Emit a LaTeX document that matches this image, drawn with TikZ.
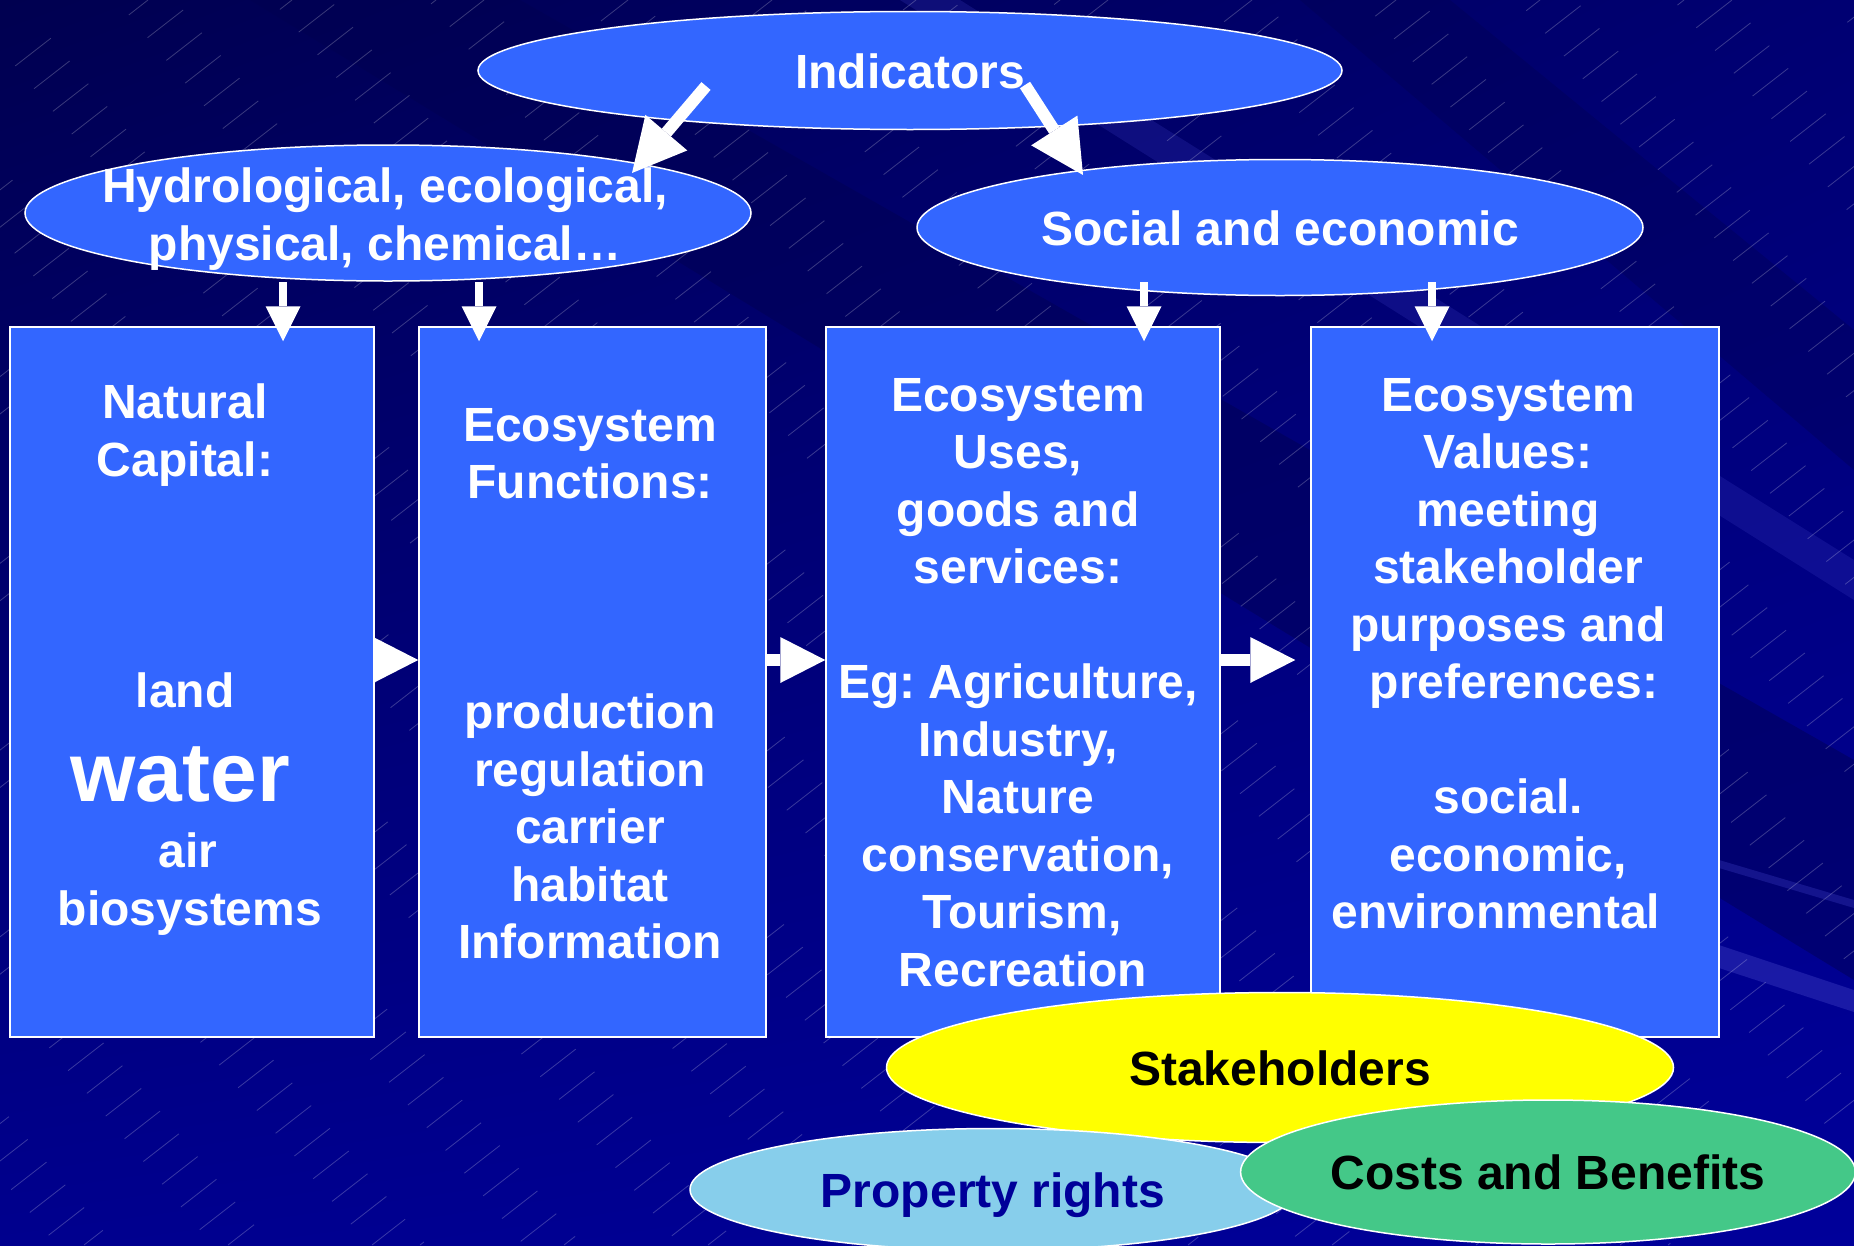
\documentclass[tikz,border=0pt]{standalone}
\usepackage{fontspec}
\setmainfont{Liberation Sans}
\usetikzlibrary{shapes.geometric,arrows.meta,calc,shadings}
\frenchspacing
\definecolor{boxblue}{HTML}{3366FF}
\definecolor{bgA}{HTML}{000050}
\definecolor{bgB}{HTML}{000072}
\definecolor{bgC}{HTML}{00008E}
\definecolor{bgD}{HTML}{00009A}
\definecolor{streak}{HTML}{3A3AC0}
\definecolor{stkyellow}{HTML}{FFFF00}
\definecolor{propblue}{HTML}{87CEEB}
\definecolor{costgreen}{HTML}{44C888}
\definecolor{proptext}{HTML}{000099}
\tikzset{
  boxst/.style={draw=white,line width=1.5pt,fill=boxblue,inner sep=0pt},
  ellst/.style={ellipse,draw=white,line width=1.5pt,fill=boxblue,inner sep=0pt,
    text=white,font=\fontsize{48}{57.5}\selectfont\bfseries,
    text height=35pt,text depth=0pt},
  txt/.style={text=white,font=\fontsize{48}{57.5}\selectfont\bfseries\frenchspacing,
    align=center,inner sep=0pt},
  varrow/.style={draw=white,line width=8pt,
    -{Triangle[length=35pt,width=35pt,line width=0pt]}},
  harrow/.style={draw=white,line width=12pt,
    -{Triangle[length=45pt,width=46pt,line width=0pt]}},
  darrow/.style={draw=white,line width=12pt,
    -{Triangle[length=53pt,width=55pt,line width=0pt]}},
  hatch/.style={draw=white,opacity=0.22,line width=0.8pt},
}
\begin{document}
\begin{tikzpicture}[x=1pt,y=-1pt]
\useasboundingbox (0,0) rectangle (1854,1245);
% background
\shade[upper left=bgA,upper right=bgB,lower left=bgC,lower right=bgD]
  (0,0) rectangle (1854,1245);
\fill[bgA,opacity=0.45] (250,0) -- (520,0) -- (1854,760) -- (1854,980) -- cycle;
\fill[bgA,opacity=0.35] (1300,0) -- (1450,0) -- (1854,330) -- (1854,470) -- cycle;
\fill[streak,opacity=0.25] (900,0) -- (960,0) -- (1854,560) -- (1854,600) -- cycle;
\fill[streak,opacity=0.45] (1719,945) -- (1854,990) -- (1854,1012) -- (1719,968) -- cycle;
\fill[streak,opacity=0.35] (1719,860) -- (1854,900) -- (1854,908) -- (1719,868) -- cycle;
\foreach \i in {0,...,66}{
  \draw[hatch,dash pattern=on 45pt off 75pt,dash phase={mod(\i*37,120)*1pt}]
    ({\i*48-1500},1245) -- ++(1600,-1245);
}
% boxes
\node[boxst,minimum width=364pt,minimum height=710pt] (b1) at (192,682) {};
\node[boxst,minimum width=347pt,minimum height=710pt] (b2) at (592.5,682) {};
\node[boxst,minimum width=394pt,minimum height=710pt] (b3) at (1023,682) {};
\node[boxst,minimum width=408pt,minimum height=710pt] (b4) at (1515,682) {};
% upper ellipses
\node[ellst,minimum width=864pt,minimum height=118pt] (ind) at (910,70.5) {Indicators};
\node[ellst,minimum width=726pt,minimum height=136pt] (hyd) at (388,213) {};
\node[ellst,minimum width=726pt,minimum height=136pt] (soc) at (1280,227.5) {Social and economic};
\node[txt,anchor=north] (hydt) at (385,168) {Hydrological, ecological,\\physical, chemical…};
% arrows from indicators
\coordinate (d1) at (706,86);
\coordinate (d1e) at (632,173);
\coordinate (d2) at (1025,85);
\coordinate (d2e) at (1083,175);
\draw[darrow] (d1) -- (d1e);
\draw[darrow] (d2) -- (d2e);
% vertical arrows
\coordinate (v1) at (283,282);
\coordinate (v2) at (479,282);
\coordinate (v3) at (1144,282);
\coordinate (v4) at (1432,282);
\draw[varrow] (v1) -- ($(v1|-b1.north)+(0,15)$);
\draw[varrow] (v2) -- ($(v2|-b2.north)+(0,15)$);
\draw[varrow] (v3) -- ($(v3|-b3.north)+(0,15)$);
\draw[varrow] (v4) -- ($(v4|-b4.north)+(0,15)$);
% horizontal arrows
\coordinate (hy) at (0,660);
\draw[harrow] ($(b1.east|-hy)+(-1,0)$) -- (b2.west|-hy);
\draw[harrow] (b2.east|-hy) -- (b3.west|-hy);
\draw[harrow] (b3.east|-hy) -- ($(b4.west|-hy)+(-15,0)$);
% box texts
\node[txt,anchor=north] (t1a) at (185,384) {Natural\\Capital:};
\node[txt,anchor=base] (t1b) at (185,707) {land};
\node[txt,anchor=base,font=\fontsize{84}{90}\selectfont\bfseries] (t1c) at (180,801) {water};
\node[txt,anchor=north] (t1d) at (190,833) {air\hspace*{4pt}\\biosystems};
\node[txt,anchor=north] (t2) at (590,408)
  {Ecosystem\\Functions:\\[172.5pt]production\\regulation\\carrier\\habitat\\Information};
\node[txt,anchor=north] (t3) at (1018,378)
  {Ecosystem\\Uses,\hspace*{8pt}\\goods and\\services:\\[57.5pt]Eg: Agriculture,\\Industry,\\Nature\\conservation,\\\hspace*{8pt}Tourism,\\\hspace*{10pt}Recreation};
\node[txt,anchor=north] (t4) at (1508,378)
  {Ecosystem\\Values:\\meeting\\stakeholder\\purposes and\\\hspace*{12pt}preferences:\\[57.5pt]social.\\economic,\\environmental\hspace*{24pt}};
% lower ellipses
\node[ellst,fill=stkyellow,text=black,minimum width=787pt,minimum height=150pt] (stk) at (1280,1067.5) {Stakeholders};
\node[ellst,fill=propblue,text=proptext,minimum width=606pt,minimum height=122pt] (prop) at (993,1189.5) {Property rights};
\node[ellst,fill=costgreen,text=black,minimum width=612pt,minimum height=144pt] (cost) at (1548,1172) {Costs and Benefits};
\end{tikzpicture}
\end{document}
